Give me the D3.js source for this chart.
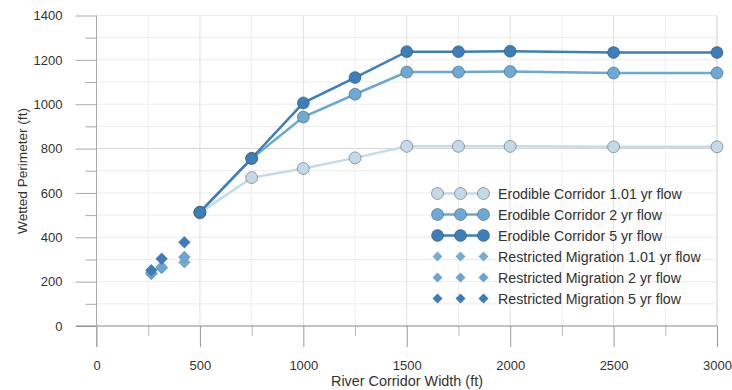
<!DOCTYPE html>
<html><head><meta charset="utf-8">
<script src="https://cdn.jsdelivr.net/npm/d3@7"></script>
<style>body{margin:0;background:#fff}svg{display:block;font-family:"Liberation Sans",Arial,sans-serif}</style>
</head><body><svg id="c" width="732" height="390"></svg>
<script>
const erodibleX = [500, 750, 1000, 1250, 1500, 1750, 2000, 2500, 3000];
const erodible101 = [510, 669, 710, 758, 810, 810, 810, 808, 808];
const erodible2 = [513, 755, 942, 1045, 1145, 1145, 1147, 1141, 1141];
const erodible5 = [513, 756, 1006, 1120, 1237, 1237, 1239, 1233, 1233];
const restrictedX = [265, 315, 425];
const restricted101 = [235, 261, 288];
const restricted2 = [240, 266, 311];
const restricted5 = [251, 303, 378];
const xTicks = [0, 500, 1000, 1500, 2000, 2500, 3000];
const yTicks = [0, 200, 400, 600, 800, 1000, 1200, 1400];
const legendLabels = ["Erodible Corridor 1.01 yr flow","Erodible Corridor 2 yr flow","Erodible Corridor 5 yr flow","Restricted Migration 1.01 yr flow","Restricted Migration 2 yr flow","Restricted Migration 5 yr flow"];

const svg = d3.select("#c");
const x = d3.scaleLinear().domain([0, 3000]).range([96.5, 717]);
const y = d3.scaleLinear().domain([0, 1400]).range([326, 15.5]);
const fmt = d3.format("d");

// grid
const g = svg.append("g");
d3.range(100, 1401, 100).forEach(v => {
  g.append("line").attr("x1", x(0)).attr("x2", x(3000)).attr("y1", y(v)).attr("y2", y(v))
   .attr("stroke", v === 800 ? "#d4d4d4" : "#ececec").attr("stroke-width", 1);
});
d3.range(250, 3001, 250).forEach(v => {
  g.append("line").attr("x1", x(v)).attr("x2", x(v)).attr("y1", y(0)).attr("y2", y(1400))
   .attr("stroke", v % 500 === 0 ? (v===3000 ? "#cfcfcf" : "#e0e0e0") : "#efefef").attr("stroke-width", 1);
});

// axes
const yAxisMinor = d3.axisLeft(y).tickValues(d3.range(100, 1400, 200)).tickSize(11).tickFormat("").tickSizeOuter(0);
svg.append("g").attr("transform", `translate(${x(0)},0)`).call(yAxisMinor)
  .call(a => { a.select(".domain").remove(); a.selectAll("line").attr("stroke", "#aaa"); });
const yAxis = d3.axisLeft(y).tickValues(yTicks).tickFormat(fmt).tickSize(21).tickPadding(13).tickSizeOuter(0);
svg.append("g").attr("transform", `translate(${x(0)},0)`).call(yAxis)
  .call(a => { a.select(".domain").remove(); a.selectAll("line").attr("stroke", "#aaa");
    a.selectAll("text").attr("font-size", 13).attr("fill", "#333").attr("font-family", "Liberation Sans, Arial, sans-serif"); });
const xAxisMinor = d3.axisBottom(x).tickValues(d3.range(250, 3000, 500)).tickSize(10).tickFormat("").tickSizeOuter(0);
svg.append("g").attr("transform", `translate(0,${y(0)})`).call(xAxisMinor)
  .call(a => { a.select(".domain").remove(); a.selectAll("line").attr("stroke", "#bbb"); });
const xAxis = d3.axisBottom(x).tickValues(xTicks).tickFormat(fmt).tickSize(21).tickPadding(14).tickSizeOuter(0);
svg.append("g").attr("transform", `translate(0,${y(0)})`).call(xAxis)
  .call(a => { a.select(".domain").remove(); a.selectAll("line").attr("stroke", "#999");
    a.selectAll("text").attr("font-size", 13).attr("fill", "#333").attr("font-family", "Liberation Sans, Arial, sans-serif"); });
svg.append("line").attr("x1", 76).attr("x2", x(3000)).attr("y1", y(0)).attr("y2", y(0)).attr("stroke", "#888");
svg.append("line").attr("x1", x(0)).attr("x2", x(0)).attr("y1", y(1400)).attr("y2", y(0) + 21).attr("stroke", "#aaa");

svg.append("text").attr("x", 407).attr("y", 386).attr("text-anchor", "middle").attr("font-size", 14.4).attr("fill", "#333").text("River Corridor Width (ft)");
svg.append("text").attr("transform", "translate(27,171) rotate(-90)").attr("text-anchor", "middle").attr("font-size", 13.6).attr("fill", "#333").text("Wetted Perimeter (ft)");

const lineSeries = [
  {vals: erodible101, line: "#c3dbea", fill: "#c3d9e7"},
  {vals: erodible2, line: "#6aa9d3", fill: "#6aaad5"},
  {vals: erodible5, line: "#3a80bb", fill: "#3a7fba"}
];
const diamSeries = [
  {vals: restricted101, fill: "#74acd6"},
  {vals: restricted2, fill: "#6aa6d3"},
  {vals: restricted5, fill: "#3a7dba"}
];
const lineGen = d3.line().x(d => x(d[0])).y(d => y(d[1]));
const dpath = "M0,-6L6,0L0,6L-6,0Z";

diamSeries.forEach(s => {
  svg.append("g").selectAll("path").data(restrictedX.map((v, i) => [v, s.vals[i]])).join("path")
    .attr("d", dpath).attr("transform", d => `translate(${x(d[0])},${y(d[1])})`)
    .attr("fill", s.fill).attr("stroke", "rgba(80,80,80,0.35)").attr("stroke-width", 0.6);
});
lineSeries.forEach(s => {
  const pts = erodibleX.map((v, i) => [v, s.vals[i]]);
  svg.append("path").datum(pts).attr("d", lineGen).attr("fill", "none").attr("stroke", s.line).attr("stroke-width", 2.5);
  svg.append("g").selectAll("circle").data(pts).join("circle")
    .attr("cx", d => x(d[0])).attr("cy", d => y(d[1])).attr("r", 6)
    .attr("fill", s.fill).attr("stroke", "rgba(60,60,60,0.55)").attr("stroke-width", 0.8);
});

// legend
const lx = [437.5, 460.5, 483.5];
const ly = [193.5, 214.5, 235.5, 256.5, 277.5, 298.5];
legendLabels.forEach((lab, i) => {
  const gg = svg.append("g");
  if (i < 3) {
    const s = lineSeries[i];
    gg.append("line").attr("x1", lx[0]).attr("x2", lx[2]).attr("y1", ly[i]).attr("y2", ly[i]).attr("stroke", s.line).attr("stroke-width", 2.5);
    lx.forEach(cx => gg.append("circle").attr("cx", cx).attr("cy", ly[i]).attr("r", 6).attr("fill", s.fill).attr("stroke", "rgba(60,60,60,0.55)").attr("stroke-width", 0.8));
  } else {
    const s = diamSeries[i - 3];
    lx.forEach(cx => gg.append("path").attr("d", "M0,-5L5,0L0,5L-5,0Z").attr("transform", `translate(${cx},${ly[i]})`).attr("fill", s.fill));
  }
  gg.append("text").attr("x", 498).attr("y", ly[i] + 5).attr("font-size", 14.2).attr("fill", "#333").text(lab);
});
</script></body></html>
